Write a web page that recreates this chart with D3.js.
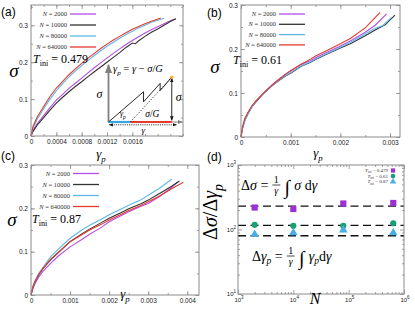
<!DOCTYPE html>
<html>
<head>
<meta charset="utf-8">
<script src="https://cdn.jsdelivr.net/npm/d3@7"></script>
<style>
  body { margin: 0; background: #fff; }
  svg { display: block; }
</style>
</head>
<body>
<div id="chart"></div>
<script>
// ---- data ----
const sizes = ['2000', '10000', '80000', '640000'];
const sizeColors = ['#b44ee6', '#333333', '#5cb8e8', '#e63a2c'];

// panel (a), T_ini = 0.479 : [gamma_p, sigma]
const a2000 = [[0,0],[0.00003,0.015],[0.0001,0.034],[0.0002,0.055],[0.0003,0.077],[0.0004,0.097],[0.0005,0.113],[0.0006,0.129],[0.0007,0.143],[0.0008,0.157],[0.0009,0.171],[0.001,0.185],[0.0011,0.198],[0.0012,0.211],[0.0013,0.224],[0.0014,0.236],[0.0015,0.248],[0.0016,0.259],[0.0017,0.269],[0.0018,0.279],[0.0019,0.288],[0.002,0.296],[0.0021,0.304],[0.0022,0.312],[0.00228,0.318]];
const a10000 = [[0,0],[0.00003,0.012],[0.0001,0.030],[0.0002,0.050],[0.0003,0.070],[0.0004,0.089],[0.0005,0.105],[0.0006,0.120],[0.0007,0.134],[0.0008,0.147],[0.0009,0.161],[0.001,0.174],[0.0011,0.187],[0.0012,0.200],[0.0013,0.213],[0.0014,0.226],[0.0015,0.240],[0.0016,0.252],[0.00165,0.250],[0.0017,0.258],[0.0018,0.270],[0.0019,0.281],[0.002,0.290],[0.0021,0.300],[0.0022,0.310],[0.00229,0.318]];
const a80000 = [[0,0],[0.00003,0.020],[0.0001,0.046],[0.0002,0.074],[0.0003,0.100],[0.0004,0.123],[0.0005,0.142],[0.0006,0.160],[0.0007,0.176],[0.0008,0.191],[0.0009,0.205],[0.001,0.218],[0.0011,0.231],[0.0012,0.243],[0.0013,0.254],[0.0014,0.265],[0.0015,0.275],[0.0016,0.284],[0.0017,0.293],[0.0018,0.300],[0.0019,0.308],[0.0021,0.319]];
const a640000 = [[0,0],[0.00003,0.025],[0.0001,0.052],[0.0002,0.080],[0.0003,0.107],[0.0004,0.130],[0.0005,0.148],[0.0006,0.166],[0.0007,0.182],[0.0008,0.197],[0.0009,0.211],[0.001,0.224],[0.0011,0.237],[0.0012,0.249],[0.0013,0.260],[0.0014,0.270],[0.0015,0.280],[0.0016,0.289],[0.0017,0.297],[0.0018,0.304],[0.0019,0.311],[0.00205,0.320]];

// panel (b), T_ini = 0.61
const b2000 = [[0,0],[0.00003,0.021],[0.00008,0.040],[0.00015,0.056],[0.00022,0.069],[0.0003,0.080],[0.00042,0.095],[0.0005,0.105],[0.0006,0.116],[0.0007,0.126],[0.0008,0.134],[0.0009,0.143],[0.001,0.151],[0.0012,0.164],[0.0014,0.174],[0.0015,0.180],[0.0017,0.191],[0.002,0.207],[0.0022,0.218],[0.0025,0.238],[0.0027,0.254],[0.00293,0.280]];
const b10000 = [[0,0],[0.00003,0.020],[0.00008,0.039],[0.00015,0.055],[0.00022,0.069],[0.0003,0.080],[0.00042,0.095],[0.0005,0.104],[0.0006,0.114],[0.0007,0.123],[0.0008,0.131],[0.0009,0.139],[0.001,0.145],[0.0012,0.160],[0.0014,0.170],[0.0015,0.176],[0.0017,0.187],[0.002,0.202],[0.0022,0.212],[0.0025,0.230],[0.0027,0.243],[0.0029,0.255],[0.003,0.266],[0.0031,0.277]];
const b80000 = [[0,0],[0.00003,0.019],[0.00008,0.038],[0.00015,0.055],[0.00022,0.069],[0.0003,0.081],[0.00042,0.096],[0.0005,0.104],[0.0006,0.114],[0.0007,0.123],[0.0008,0.132],[0.0009,0.140],[0.001,0.146],[0.0012,0.161],[0.0014,0.171],[0.0015,0.177],[0.0017,0.188],[0.002,0.204],[0.0022,0.215],[0.0025,0.234],[0.0027,0.247],[0.00285,0.253],[0.0029,0.258],[0.00303,0.272]];
const b640000 = [[0,0],[0.00003,0.023],[0.00008,0.043],[0.00015,0.058],[0.00022,0.071],[0.0003,0.082],[0.00042,0.096],[0.0005,0.105],[0.0006,0.115],[0.0007,0.125],[0.0008,0.134],[0.0009,0.143],[0.001,0.150],[0.0012,0.165],[0.0014,0.177],[0.0015,0.184],[0.0017,0.195],[0.002,0.212],[0.0022,0.224],[0.0025,0.248],[0.0028,0.283]];

// panel (c), T_ini = 0.87
const c2000 = [[0,0],[0.00005,0.015],[0.0001,0.026],[0.0002,0.042],[0.0003,0.054],[0.0005,0.073],[0.0007,0.090],[0.001,0.111],[0.0013,0.128],[0.0015,0.140],[0.0018,0.156],[0.002,0.169],[0.0023,0.183],[0.0025,0.192],[0.0028,0.204],[0.003,0.211],[0.0033,0.228],[0.0036,0.248],[0.00375,0.261]];
const c10000 = [[0,0],[0.00005,0.018],[0.0001,0.030],[0.0002,0.047],[0.0003,0.060],[0.0005,0.081],[0.0007,0.098],[0.001,0.123],[0.0013,0.141],[0.0015,0.152],[0.0018,0.167],[0.002,0.177],[0.0023,0.190],[0.0025,0.199],[0.0028,0.210],[0.003,0.219],[0.0033,0.235],[0.0036,0.251],[0.0038,0.263]];
const c80000 = [[0,0],[0.00005,0.020],[0.0001,0.032],[0.0002,0.050],[0.0003,0.063],[0.0005,0.088],[0.0007,0.106],[0.001,0.131],[0.0013,0.150],[0.0015,0.161],[0.0018,0.175],[0.002,0.185],[0.0023,0.198],[0.0025,0.207],[0.0028,0.219],[0.003,0.230],[0.0033,0.247],[0.0036,0.267]];
const c640000 = [[0,0],[0.00005,0.020],[0.0001,0.031],[0.0002,0.048],[0.0003,0.061],[0.0005,0.082],[0.0007,0.099],[0.001,0.123],[0.0013,0.139],[0.0015,0.150],[0.0018,0.163],[0.002,0.173],[0.0023,0.186],[0.0025,0.195],[0.0028,0.206],[0.003,0.215],[0.0033,0.229],[0.0036,0.245],[0.0039,0.260]];

// panel (d): ratio vs N
const dN = [2000, 10000, 80000, 640000];
const dT479 = [219, 208, 253, 258];
const dT61 = [118, 114, 114, 125];
const dT87 = [84, 89, 98, 89];
const dErr61 = [4, 3, 6, 4];
const dErr87 = [4, 5, 8, 4];
const dLevels = [230, 116, 80];
const dLabels = ['0.479', '0.61', '0.87'];
const dColors = ['#9b30d4', '#1a9e74', '#4aaee6'];

// inset schematic of panel (a), unit coordinates
const sawtooth = [[0,0],[0.464,0.54],[0.464,0.36],[0.684,0.69],[0.684,0.56],[0.838,0.80]];
const unloadLine = [[0.29,0],[0.838,0.80]];

// ---- drawing ----
const W = 415, H = 312;
const sans = 'Liberation Sans, Arial, sans-serif';
const serif = 'Liberation Serif, Times New Roman, serif';
const frameColor = '#8c8c8c';

const svg = d3.select('#chart').append('svg')
  .attr('width', W).attr('height', H)
  .style('background', '#fff');

const defs = svg.append('defs');
function arrowDef(id, color) {
  defs.append('marker').attr('id', id)
    .attr('viewBox', '0 0 10 10').attr('refX', 9).attr('refY', 5)
    .attr('markerWidth', 5).attr('markerHeight', 5).attr('orient', 'auto-start-reverse')
    .append('path').attr('d', 'M0,1 L10,5 L0,9 Z').attr('fill', color);
}
arrowDef('arrGray', '#808080');
arrowDef('arrBlack', '#111');

// rich text: parts = [{t, i, sub}]
function rich(parent, x, y, parts, size, anchor, fill) {
  const t = parent.append('text').attr('x', x).attr('y', y)
    .attr('font-family', serif).attr('font-size', size)
    .attr('text-anchor', anchor || 'start').attr('fill', fill || '#000');
  let shifted = 0;
  parts.forEach(p => {
    const s = t.append('tspan').text(p.t);
    if (p.i) s.attr('font-style', 'italic');
    if (p.sub) {
      s.attr('font-size', size * 0.68);
      const d = size * 0.28 - shifted; if (d) s.attr('dy', d); shifted = size * 0.28;
    } else if (shifted) { s.attr('dy', -shifted); shifted = 0; }
  });
  return t;
}

function styleAxis(g) {
  g.select('.domain').remove();
  g.selectAll('line').attr('stroke', frameColor).attr('stroke-width', 0.8);
  g.selectAll('text').attr('font-family', sans).attr('font-size', 6.5).attr('fill', '#222');
}

function linearPanel(cfg) {
  const x = d3.scaleLinear().domain(cfg.xDomain).range([cfg.left, cfg.right]);
  const y = d3.scaleLinear().domain(cfg.yDomain).range([cfg.bottom, cfg.top]);
  const g = svg.append('g');
  const fmt = d => d === 0 ? '0' : String(+d.toFixed(5));

  // minor ticks (all four sides)
  const mx = cfg.xMinor, my = cfg.yMinor;
  g.append('g').attr('transform', `translate(0,${cfg.bottom})`).call(d3.axisBottom(x).tickValues(mx).tickSize(-2).tickFormat('')).call(styleAxis);
  g.append('g').attr('transform', `translate(0,${cfg.top})`).call(d3.axisTop(x).tickValues(mx).tickSize(-2).tickFormat('')).call(styleAxis);
  g.append('g').attr('transform', `translate(${cfg.left},0)`).call(d3.axisLeft(y).tickValues(my).tickSize(-2).tickFormat('')).call(styleAxis);
  g.append('g').attr('transform', `translate(${cfg.right},0)`).call(d3.axisRight(y).tickValues(my).tickSize(-2).tickFormat('')).call(styleAxis);
  // major ticks
  g.append('g').attr('transform', `translate(0,${cfg.bottom})`).call(d3.axisBottom(x).tickValues(cfg.xMajor).tickSize(-4).tickPadding(3).tickFormat(fmt)).call(styleAxis);
  g.append('g').attr('transform', `translate(0,${cfg.top})`).call(d3.axisTop(x).tickValues(cfg.xMajor).tickSize(-4).tickFormat('')).call(styleAxis);
  g.append('g').attr('transform', `translate(${cfg.left},0)`).call(d3.axisLeft(y).tickValues(cfg.yMajor).tickSize(-4).tickPadding(3).tickFormat(fmt)).call(styleAxis);
  g.append('g').attr('transform', `translate(${cfg.right},0)`).call(d3.axisRight(y).tickValues(cfg.yMajor).tickSize(-4).tickFormat('')).call(styleAxis);

  // curves
  const line = d3.line().x(d => x(d[0])).y(d => y(d[1]));
  cfg.series.forEach((s, i) => {
    g.append('path').datum(s).attr('d', line)
      .attr('fill', 'none').attr('stroke', sizeColors[i]).attr('stroke-width', 1.1);
  });

  // frame
  g.append('rect').attr('x', cfg.left).attr('y', cfg.top)
    .attr('width', cfg.right - cfg.left).attr('height', cfg.bottom - cfg.top)
    .attr('fill', 'none').attr('stroke', frameColor).attr('stroke-width', 1);

  // legend
  const lg = cfg.legend;
  sizes.forEach((n, i) => {
    const yy = lg.y + i * lg.dy;
    rich(g, lg.textX, yy + 2, [{t: 'N', i: true}, {t: ' = ' + n}], 6.5, 'end', '#333');
    g.append('line').attr('x1', lg.textX + 3).attr('x2', lg.textX + 29)
      .attr('y1', yy).attr('y2', yy)
      .attr('stroke', sizeColors[i]).attr('stroke-width', 1.3);
  });
  rich(g, cfg.tini.x, cfg.tini.y, [{t: 'T', i: true}, {t: 'ini', sub: true}, {t: ' = ' + cfg.tini.v}], 12);

  // axis labels
  rich(g, cfg.ylab[0], cfg.ylab[1], [{t: 'σ', i: true}], 19, 'middle');
  rich(g, cfg.xlab[0], cfg.xlab[1], [{t: 'γ', i: true}, {t: 'p', i: true, sub: true}], 13, 'middle');
  g.append('text').attr('x', cfg.tag[0]).attr('y', cfg.tag[1]).text(cfg.tag[2])
    .attr('font-family', sans).attr('font-size', 12).attr('fill', '#000');
  return {x, y, g};
}

const pa = linearPanel({
  left: 31, right: 183, top: 5, bottom: 136,
  xDomain: [0, 0.0024], yDomain: [0, 0.355],
  xMajor: [0, 0.0004, 0.0008, 0.0012, 0.0016], xMinor: d3.range(0, 0.00241, 0.0002),
  yMajor: [0, 0.1, 0.2, 0.3], yMinor: d3.range(0, 0.351, 0.05),
  series: [a2000, a10000, a80000, a640000],
  legend: {textX: 67, y: 14, dy: 11},
  tini: {x: 33, y: 63, v: '0.479'},
  ylab: [14, 77], xlab: [101, 158], tag: [1, 16, '(a)']
});

linearPanel({
  left: 241, right: 400, top: 5, bottom: 137,
  xDomain: [0, 0.0032], yDomain: [0, 0.3],
  xMajor: [0, 0.001, 0.002, 0.003], xMinor: d3.range(0, 0.00321, 0.0005),
  yMajor: [0, 0.1, 0.2, 0.3], yMinor: d3.range(0, 0.301, 0.05),
  series: [b2000, b10000, b80000, b640000],
  legend: {textX: 276, y: 14, dy: 10.3},
  tini: {x: 233, y: 64, v: '0.61'},
  ylab: [215, 73], xlab: [318, 157], tag: [207, 17, '(b)']
});

linearPanel({
  left: 31, right: 199, top: 165, bottom: 295,
  xDomain: [0, 0.0043], yDomain: [0, 0.3],
  xMajor: [0, 0.001, 0.002, 0.003, 0.004], xMinor: d3.range(0, 0.00431, 0.0005),
  yMajor: [0, 0.1, 0.2, 0.3], yMinor: d3.range(0, 0.301, 0.05),
  series: [c2000, c10000, c80000, c640000],
  legend: {textX: 70, y: 173.5, dy: 11},
  tini: {x: 32, y: 223, v: '0.87'},
  ylab: [12, 226], xlab: [125, 298], tag: [1, 160, '(c)']
});

// ---- inset of panel (a) ----
(function inset() {
  const g = pa.g;
  const ix = d3.scaleLinear().domain([0, 1]).range([108.5, 184]);
  const iy = d3.scaleLinear().domain([0, 1]).range([122, 66]);
  const line = d3.line().x(d => ix(d[0])).y(d => iy(d[1]));
  // axes of the sketch
  g.append('line').attr('x1', ix(0)).attr('y1', iy(0)).attr('x2', ix(0)).attr('y2', iy(1.02))
    .attr('stroke', '#808080').attr('stroke-width', 1.8).attr('marker-end', 'url(#arrGray)');
  g.append('line').attr('x1', ix(0)).attr('y1', iy(0)).attr('x2', ix(0.98)).attr('y2', iy(0))
    .attr('stroke', '#808080').attr('stroke-width', 1).attr('marker-end', 'url(#arrGray)');
  // plastic / elastic parts
  g.append('line').attr('x1', ix(0)).attr('x2', ix(unloadLine[0][0])).attr('y1', iy(0)).attr('y2', iy(0))
    .attr('stroke', '#3aa6e8').attr('stroke-width', 2.2);
  g.append('line').attr('x1', ix(unloadLine[0][0])).attr('x2', ix(0.838)).attr('y1', iy(0)).attr('y2', iy(0))
    .attr('stroke', '#e63a2c').attr('stroke-width', 2.2);
  g.append('path').datum(sawtooth).attr('d', line).attr('fill', 'none').attr('stroke', '#111').attr('stroke-width', 0.9);
  g.append('path').datum(unloadLine).attr('d', line).attr('fill', 'none').attr('stroke', '#111')
    .attr('stroke-width', 0.9).attr('stroke-dasharray', '1.2,1.8');
  // sigma arrow
  g.append('line').attr('x1', ix(0.838)).attr('x2', ix(0.838)).attr('y1', iy(0.03)).attr('y2', iy(0.78))
    .attr('stroke', '#111').attr('stroke-width', 0.9)
    .attr('marker-start', 'url(#arrBlack)').attr('marker-end', 'url(#arrBlack)');
  // gamma arrow
  g.append('line').attr('x1', ix(0.01)).attr('x2', ix(0.9)).attr('y1', iy(-0.05)).attr('y2', iy(-0.05))
    .attr('stroke', '#111').attr('stroke-width', 0.8).attr('stroke-dasharray', '1.2,1')
    .attr('marker-start', 'url(#arrBlack)').attr('marker-end', 'url(#arrBlack)');
  g.append('circle').attr('cx', ix(0.838)).attr('cy', iy(0.80)).attr('r', 1.8).attr('fill', '#f2b434');
  rich(g, ix(-0.12), iy(0.42), [{t: 'σ', i: true}], 12, 'middle');
  rich(g, ix(0.93), iy(0.38), [{t: 'σ', i: true}], 12, 'middle');
  rich(g, ix(0.06), iy(0.9), [{t: 'γ', i: true}, {t: 'p', i: true, sub: true}, {t: ' = '}, {t: 'γ', i: true}, {t: ' − '}, {t: 'σ', i: true}, {t: '/'}, {t: 'G', i: true}], 10.5);
  rich(g, ix(0.19), iy(0.1), [{t: 'γ', i: true}, {t: 'p', i: true, sub: true}], 8, 'middle');
  rich(g, ix(0.58), iy(0.09), [{t: 'σ', i: true}, {t: '/'}, {t: 'G', i: true}], 9.5, 'middle');
  rich(g, ix(0.46), iy(-0.2), [{t: 'γ', i: true}], 9, 'middle');
})();

// ---- panel (d) ----
(function panelD() {
  const L = 238, R = 404, T = 165, B = 294;
  const x = d3.scaleLog().domain([1e3, 1e6]).range([L, R]);
  const y = d3.scaleLog().domain([10, 1000]).range([B, T]);
  const g = svg.append('g');
  const minorX = [], minorY = [];
  [1e3, 1e4, 1e5].forEach(d => d3.range(2, 10).forEach(k => minorX.push(d * k)));
  [10, 100].forEach(d => d3.range(2, 10).forEach(k => minorY.push(d * k)));
  g.append('g').attr('transform', `translate(0,${B})`).call(d3.axisBottom(x).tickValues(minorX).tickSize(-2).tickFormat('')).call(styleAxis);
  g.append('g').attr('transform', `translate(0,${T})`).call(d3.axisTop(x).tickValues(minorX).tickSize(-2).tickFormat('')).call(styleAxis);
  g.append('g').attr('transform', `translate(${L},0)`).call(d3.axisLeft(y).tickValues(minorY).tickSize(-2).tickFormat('')).call(styleAxis);
  g.append('g').attr('transform', `translate(${R},0)`).call(d3.axisRight(y).tickValues(minorY).tickSize(-2).tickFormat('')).call(styleAxis);
  g.append('g').attr('transform', `translate(0,${B})`).call(d3.axisBottom(x).tickValues([1e3, 1e4, 1e5, 1e6]).tickSize(-4).tickFormat('')).call(styleAxis);
  g.append('g').attr('transform', `translate(0,${T})`).call(d3.axisTop(x).tickValues([1e3, 1e4, 1e5, 1e6]).tickSize(-4).tickFormat('')).call(styleAxis);
  g.append('g').attr('transform', `translate(${L},0)`).call(d3.axisLeft(y).tickValues([10, 100, 1000]).tickSize(-4).tickFormat('')).call(styleAxis);
  g.append('g').attr('transform', `translate(${R},0)`).call(d3.axisRight(y).tickValues([10, 100, 1000]).tickSize(-4).tickFormat('')).call(styleAxis);

  // power-of-ten labels
  function pow10(px, py, e, anchor) {
    const t = g.append('text').attr('x', px).attr('y', py).attr('text-anchor', anchor)
      .attr('font-family', sans).attr('font-size', 6).attr('fill', '#222');
    t.append('tspan').text('10');
    t.append('tspan').text(e).attr('font-size', 4.5).attr('dy', -2.8);
  }
  [3, 4, 5, 6].forEach(e => pow10(x(Math.pow(10, e)) + 1, B + 7.5, e, 'middle'));
  [1, 2, 3].forEach(e => pow10(L - 2, y(Math.pow(10, e)) + 2, e, 'end'));

  // dashed reference levels
  dLevels.forEach(v => {
    g.append('line').attr('x1', L).attr('x2', R).attr('y1', y(v)).attr('y2', y(v))
      .attr('stroke', '#111').attr('stroke-width', 1.4).attr('stroke-dasharray', '8,4.5');
  });

  // error bars
  const errs = [[dT61, dErr61, 1], [dT87, dErr87, 2]];
  errs.forEach(([vals, err, k]) => {
    dN.forEach((n, i) => {
      g.append('line').attr('x1', x(n)).attr('x2', x(n))
        .attr('y1', y(vals[i] - err[i])).attr('y2', y(vals[i] + err[i]))
        .attr('stroke', dColors[k]).attr('stroke-width', 0.8);
    });
  });

  const sq = d3.symbol().type(d3.symbolSquare).size(38);
  const ci = d3.symbol().type(d3.symbolCircle).size(30);
  const tr = d3.symbol().type(d3.symbolTriangle).size(32);
  const shapes = [sq, ci, tr];
  [dT479, dT61, dT87].forEach((vals, k) => {
    g.selectAll(null).data(vals).enter().append('path')
      .attr('d', shapes[k])
      .attr('transform', (d, i) => `translate(${x(dN[i])},${y(d)})`)
      .attr('fill', dColors[k]);
  });

  // legend
  dLabels.forEach((lab, k) => {
    const yy = 170.5 + k * 5.6;
    rich(g, 388, yy + 1.5, [{t: 'T', i: true}, {t: 'ini', sub: true}, {t: ' = ' + lab}], 5, 'end', '#333');
    g.append('path').attr('d', d3.symbol().type([d3.symbolSquare, d3.symbolCircle, d3.symbolTriangle][k]).size(18))
      .attr('transform', `translate(393,${yy})`).attr('fill', dColors[k]);
  });

  // frame
  g.append('rect').attr('x', L).attr('y', T).attr('width', R - L).attr('height', B - T)
    .attr('fill', 'none').attr('stroke', frameColor).attr('stroke-width', 1);

  // formulas
  function formula(x0, yb, lhs, integrand) {
    const t = rich(g, x0, yb, lhs, 14);
    const w = t.node().getComputedTextLength();
    const fx = x0 + w + 8;
    rich(g, fx, yb - 7, [{t: '1'}], 10, 'middle');
    g.append('line').attr('x1', fx - 4).attr('x2', fx + 4).attr('y1', yb - 4.5).attr('y2', yb - 4.5)
      .attr('stroke', '#000').attr('stroke-width', 0.7);
    rich(g, fx, yb + 4.5, [{t: 'γ', i: true}], 10, 'middle');
    rich(g, fx + 11, yb + 4, [{t: '∫'}], 20, 'middle');
    rich(g, fx + 18, yb, integrand, 14);
  }
  formula(241, 189.5, [{t: 'Δ'}, {t: 'σ', i: true}, {t: ' = '}],
    [{t: 'σ', i: true}, {t: ' d'}, {t: 'γ', i: true}]);
  formula(252, 260.5, [{t: 'Δ'}, {t: 'γ', i: true}, {t: 'p', i: true, sub: true}, {t: ' = '}],
    [{t: 'γ', i: true}, {t: 'p', i: true, sub: true}, {t: 'd'}, {t: 'γ', i: true}]);

  // axis labels
  const yl = g.append('g').attr('transform', 'translate(217,212) rotate(-90)');
  rich(yl, 0, 0, [{t: 'Δ'}, {t: 'σ', i: true}, {t: '/Δ'}, {t: 'γ', i: true}, {t: 'p', i: true, sub: true}], 20, 'middle');
  rich(g, 315, 304, [{t: 'N', i: true}], 16, 'middle');
  g.append('text').attr('x', 207).attr('y', 161).text('(d)')
    .attr('font-family', sans).attr('font-size', 12).attr('fill', '#000');
})();
</script>
</body>
</html>
